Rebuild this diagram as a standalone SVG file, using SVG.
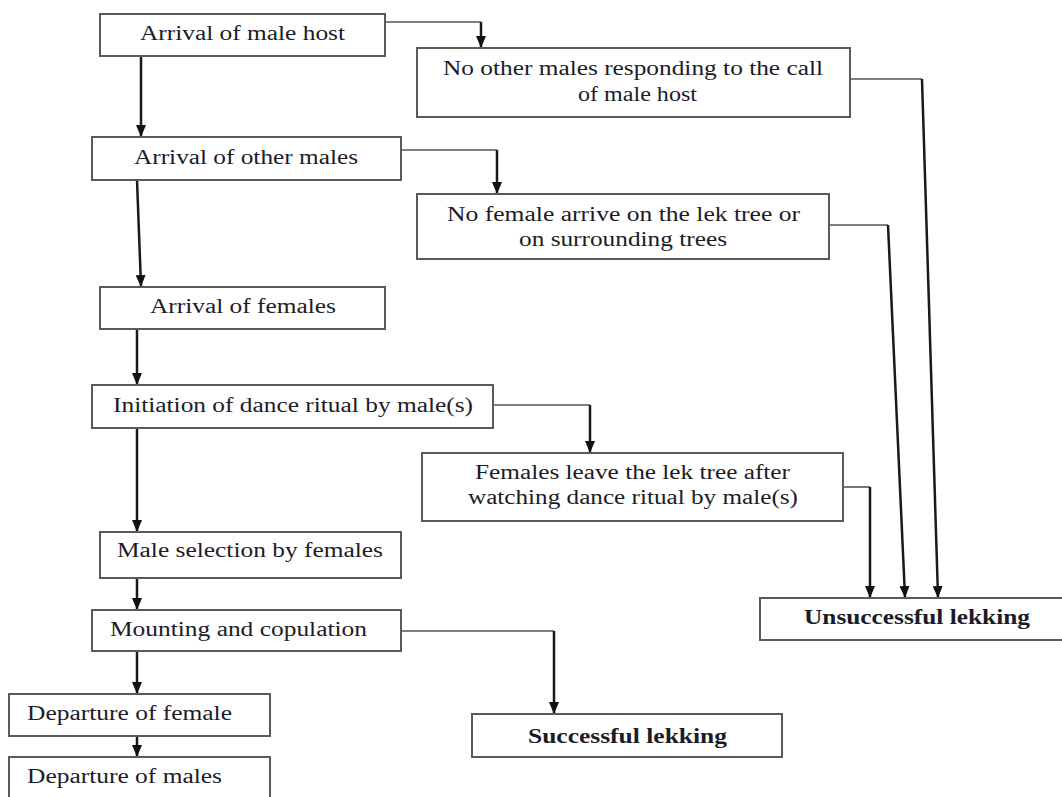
<svg xmlns="http://www.w3.org/2000/svg" width="1062" height="797" viewBox="0 0 1062 797">
<defs>
<marker id="ah" markerWidth="12" markerHeight="10" refX="11" refY="5" orient="auto" markerUnits="userSpaceOnUse" viewBox="0 0 12 10">
<path d="M0,0 L12,5 L0,10 Z" fill="#111"/>
</marker>
<style>
.box{fill:#fff;stroke:#5a5a5a;stroke-width:2}
.t{font-family:'Liberation Serif','Times New Roman',Times,serif;font-size:20px;fill:#1c1c28}
.b{font-weight:bold}
.v{fill:none;stroke:#1a1a1a;stroke-width:2.5}
.h{fill:none;stroke:#555;stroke-width:1.6}
</style>
</defs>
<rect width="1062" height="797" fill="#fff"/>
<g id="connectors">
<path class="h" d="M385,22 H481"/><path class="v" d="M481,22 V47" marker-end="url(#ah)"/>
<path class="v" d="M141,56 V136" marker-end="url(#ah)"/>
<path class="h" d="M850,79 H922"/><path class="v" d="M922,79 L938,597" marker-end="url(#ah)"/>
<path class="h" d="M401,150 H497"/><path class="v" d="M497,150 V193" marker-end="url(#ah)"/>
<path class="h" d="M829,225 H888"/><path class="v" d="M888,225 L905,597" marker-end="url(#ah)"/>
<path class="v" d="M137,180 L141,286" marker-end="url(#ah)"/>
<path class="v" d="M137,329 V384" marker-end="url(#ah)"/>
<path class="h" d="M493,405 H590"/><path class="v" d="M590,405 V452" marker-end="url(#ah)"/>
<path class="h" d="M843,487 H870"/><path class="v" d="M870,487 V597" marker-end="url(#ah)"/>
<path class="v" d="M137,428 V531" marker-end="url(#ah)"/>
<path class="v" d="M137,578 V609" marker-end="url(#ah)"/>
<path class="h" d="M401,631 H554"/><path class="v" d="M554,631 V713" marker-end="url(#ah)"/>
<path class="v" d="M137,651 V693" marker-end="url(#ah)"/>
<path class="v" d="M137,736 V756" marker-end="url(#ah)"/>
</g>
<g id="n1"><rect class="box" x="100" y="14" width="285" height="42"/><text class="t" x="140" y="40" textLength="205" lengthAdjust="spacingAndGlyphs">Arrival of male host</text></g>
<g id="n2"><rect class="box" x="417" y="48" width="433" height="69"/><text class="t" x="443" y="75" textLength="380" lengthAdjust="spacingAndGlyphs">No other males responding to the call</text><text class="t" x="578" y="101" textLength="119" lengthAdjust="spacingAndGlyphs">of male host</text></g>
<g id="n3"><rect class="box" x="92" y="137" width="309" height="43"/><text class="t" x="134" y="164" textLength="224" lengthAdjust="spacingAndGlyphs">Arrival of other males</text></g>
<g id="n4"><rect class="box" x="417" y="194" width="412" height="65"/><text class="t" x="447" y="221" textLength="353" lengthAdjust="spacingAndGlyphs">No female arrive on the lek tree or</text><text class="t" x="519" y="246" textLength="208" lengthAdjust="spacingAndGlyphs">on surrounding trees</text></g>
<g id="n5"><rect class="box" x="100" y="287" width="285" height="42"/><text class="t" x="150" y="313" textLength="186" lengthAdjust="spacingAndGlyphs">Arrival of females</text></g>
<g id="n6"><rect class="box" x="92" y="385" width="401" height="43"/><text class="t" x="113" y="412" textLength="360" lengthAdjust="spacingAndGlyphs">Initiation of dance ritual by male(s)</text></g>
<g id="n7"><rect class="box" x="422" y="453" width="421" height="68"/><text class="t" x="475" y="479" textLength="315" lengthAdjust="spacingAndGlyphs">Females leave the lek tree after</text><text class="t" x="468" y="504" textLength="330" lengthAdjust="spacingAndGlyphs">watching dance ritual by male(s)</text></g>
<g id="n8"><rect class="box" x="100" y="532" width="301" height="46"/><text class="t" x="117" y="557" textLength="266" lengthAdjust="spacingAndGlyphs">Male selection by females</text></g>
<g id="n9"><rect class="box" x="92" y="610" width="309" height="41"/><text class="t" x="110" y="636" textLength="257" lengthAdjust="spacingAndGlyphs">Mounting and copulation</text></g>
<g id="n10"><rect class="box" x="9" y="694" width="261" height="42"/><text class="t" x="27" y="720" textLength="205" lengthAdjust="spacingAndGlyphs">Departure of female</text></g>
<g id="n11"><rect class="box" x="9" y="757" width="261" height="50"/><text class="t" x="27" y="783" textLength="195" lengthAdjust="spacingAndGlyphs">Departure of males</text></g>
<g id="n12"><rect class="box" x="472" y="714" width="310" height="43"/><text class="t b" x="528" y="743" textLength="199" lengthAdjust="spacingAndGlyphs">Successful lekking</text></g>
<g id="n13"><rect class="box" x="760" y="598" width="310" height="42"/><text class="t b" x="804" y="624" textLength="226" lengthAdjust="spacingAndGlyphs">Unsuccessful lekking</text></g>
</svg>
